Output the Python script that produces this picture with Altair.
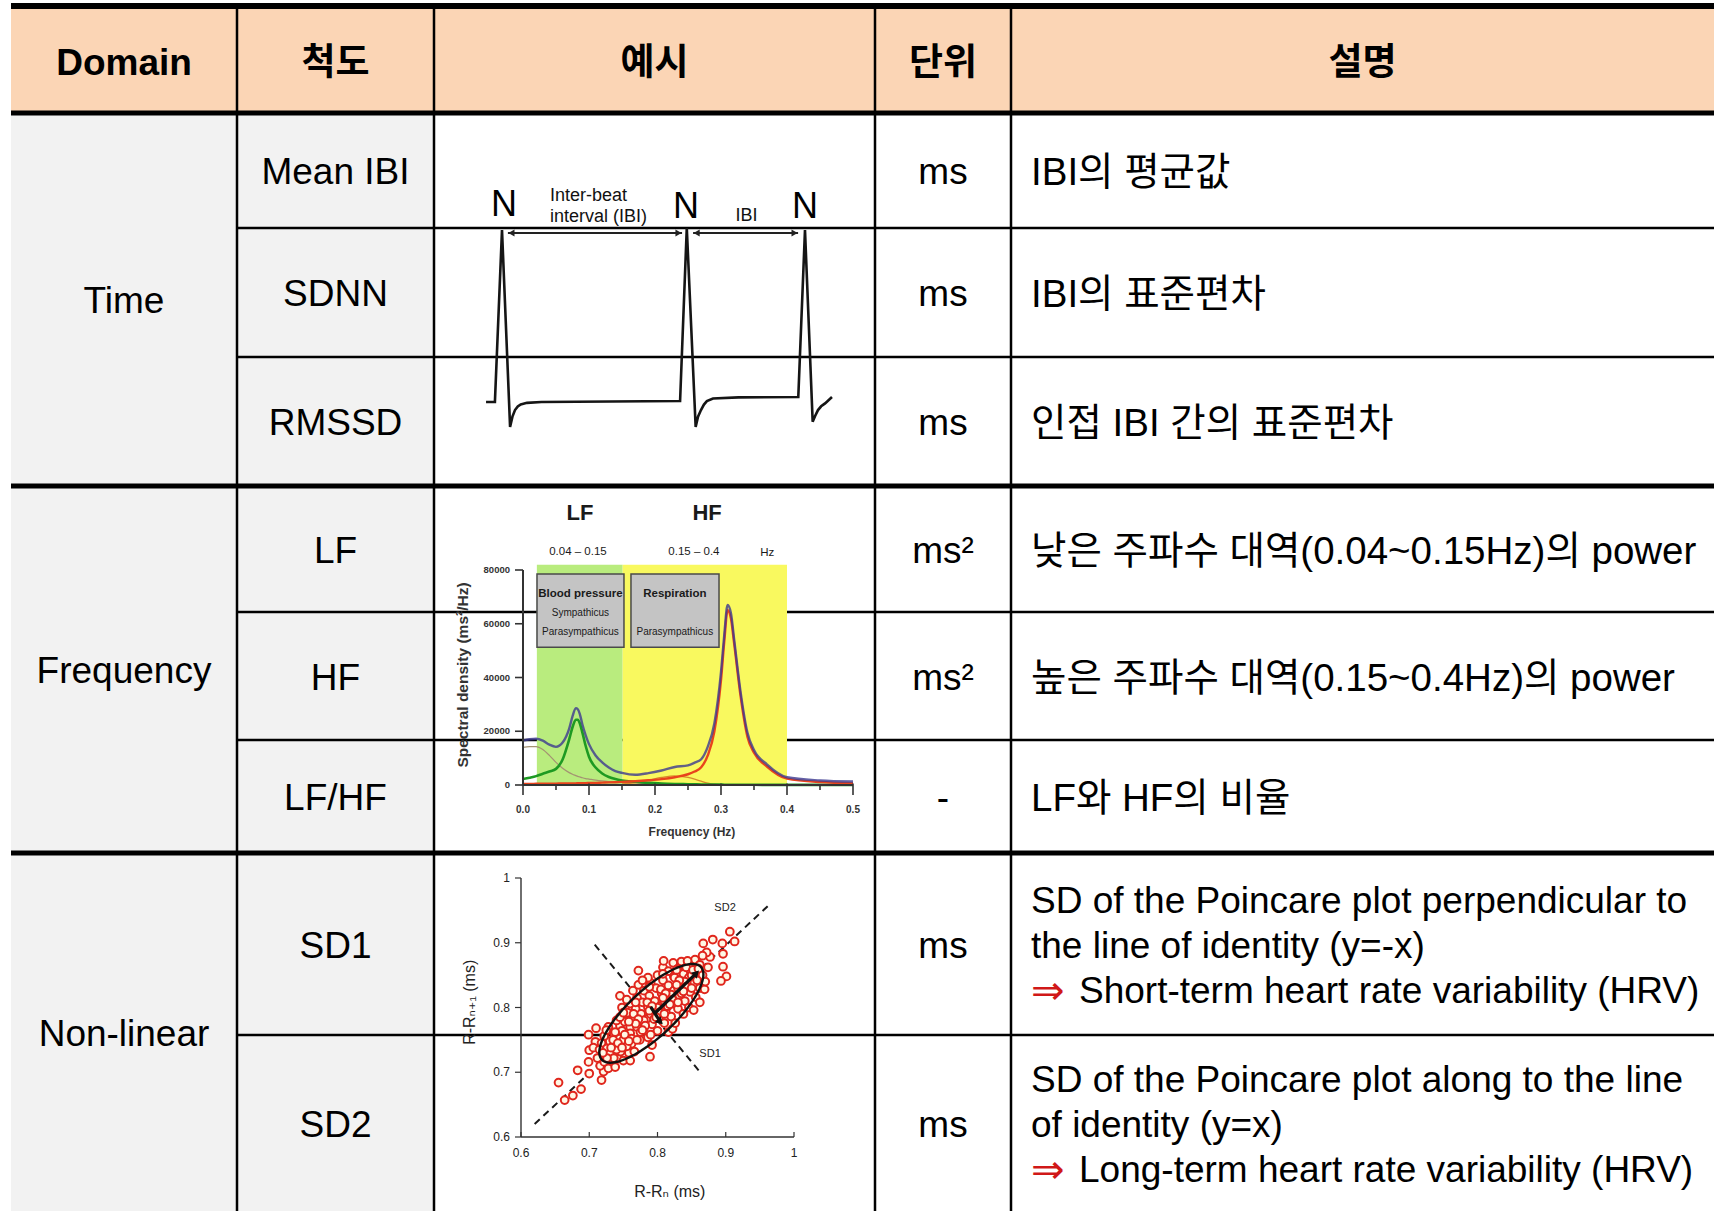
import numpy as np
import pandas as pd
import altair as alt

W, H = 1714, 1211

# ---------------------------------------------------------------- table text
HEADERS = ["Domain", "척도", "예시", "단위", "설명"]
DOMAINS = ["Time", "Frequency", "Non-linear"]
DOMAIN_ROWS = [(0, 3), (3, 6), (6, 8)]
METRICS = ["Mean IBI", "SDNN", "RMSSD", "LF", "HF", "LF/HF", "SD1", "SD2"]
UNITS = ["ms", "ms", "ms", "ms²", "ms²", "-", "ms", "ms"]
DESCRIPTIONS = [
    ["IBI의 평균값"],
    ["IBI의 표준편차"],
    ["인접 IBI 간의 표준편차"],
    ["낮은 주파수 대역(0.04~0.15Hz)의 power"],
    ["높은 주파수 대역(0.15~0.4Hz)의 power"],
    ["LF와 HF의 비율"],
    ["SD of the Poincare plot perpendicular to", "the line of identity (y=-x)"],
    ["SD of the Poincare plot along to the line", "of identity (y=x)"],
]
IMPLICATIONS = ["", "", "", "", "", "",
                "Short-term heart rate variability (HRV)",
                "Long-term heart rate variability (HRV)"]
ARROW = "⇒"

# ---------------------------------------------------------------- ECG strip
ECG_T = [-0.081, -0.036, 0.000, 0.041, 0.053, 0.066, 0.080, 0.095, 0.127, 0.200,
         0.904, 0.938, 0.983, 0.995, 1.010, 1.025, 1.040, 1.071, 1.200, 1.504,
         1.538, 1.577, 1.590, 1.604, 1.620, 1.640, 1.675]
ECG_V = [0.000, 0.000, 1.000, -0.145, -0.085, -0.047, -0.026, -0.014, -0.005, 0.000,
         0.006, 1.012, -0.145, -0.085, -0.047, -0.015, 0.005, 0.020, 0.027, 0.029,
         1.000, -0.114, -0.080, -0.047, -0.025, -0.008, 0.029]
R_PEAKS = [(0.010, 1.081), (0.934, 1.070), (1.538, 1.070)]
IBI_SPANS = [(0.030, 0.914), (0.970, 1.503)]
IBI_LEVEL = 0.983

# ---------------------------------------------------------------- HRV spectrum
FREQ = [0.00, 0.01, 0.02, 0.03, 0.04, 0.05, 0.06, 0.07, 0.075, 0.08, 0.083, 0.086,
        0.09, 0.095, 0.10, 0.11, 0.12, 0.13, 0.14, 0.15, 0.17, 0.19, 0.21, 0.23,
        0.25, 0.26, 0.27, 0.28, 0.29, 0.30, 0.305, 0.31, 0.315, 0.32, 0.33, 0.34,
        0.35, 0.37, 0.40, 0.45, 0.50]
PSD_TOTAL = [16500, 17000, 17200, 16500, 15000, 14200, 15800, 21000, 25500, 28600,
             28200, 26500, 22500, 18500, 15200, 11000, 8400, 6500, 5200, 4500,
             3800, 4400, 5400, 6700, 7300, 8300, 9600, 14300, 23000, 42000,
             56000, 67000, 64000, 54000, 34000, 19500, 13000, 7600, 2900, 1700, 1300]
PSD_LF = [2200, 2700, 3300, 4200, 5000, 6000, 9500, 17000, 21500, 24300,
          24300, 23000, 19500, 14500, 10500, 6500, 4300, 3000, 2200, 1700,
          1200, 800, 550, 400, 300, 250, 200, 180, 150, 130,
          120, 110, 100, 100, 90, 80, 70, 60, 50, 40, 30]
PSD_HF = [400, 420, 450, 480, 500, 520, 550, 580, 600, 620,
          640, 660, 680, 700, 730, 800, 880, 960, 1050, 1150,
          1400, 1750, 2200, 2900, 4000, 5000, 6600, 11000, 20000, 39000,
          53500, 65000, 62000, 52500, 32500, 18000, 12000, 6800, 2400, 1100, 700]
PSD_VLF = [14000, 14300, 14300, 13200, 11000, 8400, 6200, 4600, 4000, 3500,
           3200, 3000, 2700, 2400, 2200, 1800, 1500, 1300, 1150, 1000,
           750, 500, 300, 150, 80, 50, 30, 20, 10, 0,
           0, 0, 0, 0, 0, 0, 0, 0, 0, 0, 0]
MID_FREQ = [0.15, 0.17, 0.19, 0.21, 0.23, 0.25, 0.26, 0.27, 0.28, 0.29, 0.30]
MID_PSD = [400, 900, 1800, 2800, 3400, 2800, 2200, 1400, 700, 300, 0]
LF_BAND = (0.021, 0.151)
HF_BAND = (0.151, 0.400)
BAND_TOP = 82000
SPEC_XTICKS = [0.0, 0.1, 0.2, 0.3, 0.4, 0.5]
SPEC_XMINOR = [0.05, 0.15, 0.25, 0.35, 0.45]
SPEC_YTICKS = [0, 20000, 40000, 60000, 80000]

# ---------------------------------------------------------------- Poincare plot
RR = [
    (0.655, 0.684), (0.664, 0.657), (0.676, 0.664), (0.688, 0.674), (0.683, 0.703),
    (0.700, 0.698), (0.718, 0.688), (0.721, 0.701), (0.699, 0.716), (0.700, 0.734),
    (0.699, 0.758), (0.710, 0.768), (0.709, 0.747), (0.712, 0.722), (0.716, 0.710),
    (0.722, 0.716), (0.728, 0.706), (0.706, 0.738), (0.724, 0.728), (0.732, 0.718),
    (0.718, 0.745), (0.726, 0.737), (0.734, 0.729), (0.742, 0.721), (0.738, 0.708),
    (0.730, 0.748), (0.722, 0.756), (0.738, 0.740), (0.746, 0.732), (0.750, 0.718),
    (0.744, 0.752), (0.736, 0.760), (0.752, 0.744), (0.758, 0.730), (0.728, 0.770),
    (0.745, 0.772), (0.740, 0.780), (0.748, 0.764), (0.756, 0.756), (0.762, 0.744),
    (0.766, 0.732), (0.752, 0.778), (0.760, 0.770), (0.768, 0.760), (0.774, 0.750),
    (0.760, 0.718), (0.745, 0.818), (0.748, 0.800), (0.756, 0.792), (0.764, 0.784),
    (0.772, 0.776), (0.780, 0.768), (0.786, 0.754), (0.792, 0.742), (0.760, 0.806),
    (0.768, 0.798), (0.776, 0.790), (0.784, 0.782), (0.792, 0.774), (0.800, 0.764),
    (0.789, 0.724), (0.770, 0.815), (0.778, 0.808), (0.786, 0.800), (0.794, 0.792),
    (0.802, 0.784), (0.810, 0.776), (0.816, 0.762), (0.822, 0.767), (0.764, 0.826),
    (0.772, 0.835), (0.780, 0.826), (0.788, 0.818), (0.796, 0.810), (0.804, 0.802),
    (0.812, 0.794), (0.820, 0.786), (0.826, 0.776), (0.790, 0.838), (0.798, 0.830),
    (0.806, 0.822), (0.814, 0.814), (0.822, 0.806), (0.830, 0.798), (0.838, 0.790),
    (0.772, 0.857), (0.786, 0.846), (0.800, 0.850), (0.808, 0.842), (0.816, 0.834),
    (0.824, 0.826), (0.832, 0.818), (0.840, 0.810), (0.846, 0.800), (0.853, 0.796),
    (0.808, 0.862), (0.816, 0.856), (0.824, 0.848), (0.832, 0.840), (0.840, 0.832),
    (0.848, 0.824), (0.856, 0.816), (0.862, 0.808), (0.809, 0.872), (0.823, 0.869),
    (0.835, 0.871), (0.830, 0.860), (0.838, 0.852), (0.846, 0.846), (0.854, 0.838),
    (0.862, 0.830), (0.869, 0.828), (0.855, 0.874), (0.850, 0.862), (0.858, 0.856),
    (0.866, 0.850), (0.870, 0.840), (0.862, 0.866), (0.867, 0.899), (0.881, 0.905),
    (0.895, 0.899), (0.906, 0.917), (0.913, 0.902), (0.896, 0.883), (0.896, 0.863),
    (0.901, 0.848), (0.893, 0.841), (0.877, 0.878), (0.872, 0.885), (0.866, 0.880),
    (0.874, 0.862), (0.730, 0.728), (0.750, 0.750), (0.770, 0.770), (0.790, 0.790),
    (0.810, 0.810), (0.830, 0.830), (0.850, 0.850), (0.740, 0.735), (0.760, 0.760),
    (0.780, 0.780), (0.800, 0.800), (0.820, 0.820), (0.840, 0.840), (0.735, 0.750),
    (0.755, 0.740), (0.775, 0.762), (0.795, 0.782), (0.815, 0.802), (0.835, 0.822),
    (0.765, 0.790), (0.785, 0.808), (0.805, 0.828), (0.825, 0.846), (0.745, 0.785),
    (0.715, 0.735), (0.725, 0.765), (0.755, 0.812), (0.778, 0.842), (0.842, 0.862),
    (0.858, 0.842), (0.742, 0.745), (0.752, 0.758), (0.762, 0.752), (0.772, 0.782),
    (0.782, 0.772), (0.792, 0.802), (0.802, 0.792), (0.812, 0.822), (0.822, 0.812),
    (0.832, 0.842), (0.842, 0.832), (0.852, 0.858), (0.748, 0.738), (0.758, 0.748),
    (0.768, 0.775), (0.778, 0.765), (0.788, 0.795), (0.798, 0.785), (0.808, 0.815),
    (0.818, 0.805), (0.828, 0.835), (0.838, 0.825), (0.732, 0.738), (0.736, 0.722),
    (0.726, 0.722), (0.738, 0.762), (0.758, 0.778), (0.768, 0.808), (0.788, 0.832),
    (0.808, 0.852), (0.828, 0.858), (0.844, 0.872), (0.860, 0.860), (0.750, 0.792),
    (0.770, 0.750), (0.790, 0.758), (0.810, 0.790), (0.830, 0.808), (0.850, 0.830),
    (0.720, 0.730),
]
RR_CENTRE = (0.791, 0.791)
SD2_HALF = 0.102   # semi-axis along the line of identity
SD1_HALF = 0.035   # semi-axis perpendicular to it
IDENTITY_LINE = [(0.620, 0.620), (0.965, 0.960)]
PERP_LINE = [(0.708, 0.897), (0.861, 0.702)]
SD2_ARROW = [(0.795, 0.790), (0.857, 0.853)]
SD1_ARROW = [(0.790, 0.801), (0.804, 0.778)]
RR_TICKS = [0.6, 0.7, 0.8, 0.9, 1.0]
RR_TICK_LABELS = ["0.6", "0.7", "0.8", "0.9", "1"]

# ---------------------------------------------------------------- layout / style
COL_EDGES = [11, 237, 434, 875, 1011, 1714]
ROW_EDGES = [113, 228, 357, 486, 612, 740, 853, 1035, 1211]
TOP_RULE, HEADER_TOP, HEADER_BOTTOM = 6, 9, 113
BLOCK_RULES = [113, 486, 853]
DESC_X, NOTE_X, LINE_GAP = 1031, 1079, 45
TEXT_DROP = 2.5          # optical centring of text within cells
PEACH, GREY = "#FBD5B5", "#F2F2F2"
SANS = "Liberation Sans, Arial, Noto Sans CJK KR, sans-serif"
NARROW = "Liberation Sans Narrow, Arial Narrow, Liberation Sans, sans-serif"
BODY_SIZE = 37
HANGUL_SIZE = 38.5


def lin(domain, rng):
    return alt.Scale(domain=domain, range=rng, nice=False, zero=False)


def rules(df, sx, sy, **kw):
    enc = dict(x=alt.X("x:Q", scale=sx, axis=None), x2="x2:Q",
               y=alt.Y("y:Q", scale=sy, axis=None), y2="y2:Q")
    if "w" in df.columns:
        enc["strokeWidth"] = alt.StrokeWidth("w:Q", scale=None, legend=None)
    return alt.Chart(df).mark_rule(**kw).encode(**enc)


def rects(df, sx, sy, **kw):
    enc = dict(x=alt.X("x:Q", scale=sx, axis=None), x2="x2:Q",
               y=alt.Y("y:Q", scale=sy, axis=None), y2="y2:Q")
    if "fill" in df.columns:
        enc["color"] = alt.Color("fill:N", scale=None, legend=None)
    return alt.Chart(df).mark_rect(**kw).encode(**enc)


def texts(df, sx, sy, **kw):
    enc = dict(x=alt.X("x:Q", scale=sx, axis=None),
               y=alt.Y("y:Q", scale=sy, axis=None), text="label:N")
    return alt.Chart(df).mark_text(**kw).encode(**enc)


def path(df, sx, sy, **kw):
    return alt.Chart(df).mark_line(**kw).encode(
        x=alt.X("x:Q", scale=sx, axis=None),
        y=alt.Y("y:Q", scale=sy, axis=None),
        order="i:Q")


def points(df, sx, sy, **kw):
    enc = dict(x=alt.X("x:Q", scale=sx, axis=None),
               y=alt.Y("y:Q", scale=sy, axis=None))
    if "angle" in df.columns:
        enc["angle"] = alt.Angle("angle:Q", scale=None)
    return alt.Chart(df).mark_point(**kw).encode(**enc)


def has_hangul(s):
    return any("\uac00" <= ch <= "\ud7a3" for ch in s)


# ================================================================ table
TX, TY = lin([0, W], [0, W]), lin([0, H], [0, H])
col_mid = [(a + b) / 2 for a, b in zip(COL_EDGES[:-1], COL_EDGES[1:])]
row_mid = [(a + b) / 2 + TEXT_DROP for a, b in zip(ROW_EDGES[:-1], ROW_EDGES[1:])]
left, right = COL_EDGES[0], COL_EDGES[-1]

fills = pd.DataFrame([
    dict(x=left, x2=right, y=HEADER_TOP, y2=HEADER_BOTTOM, fill=PEACH),
    dict(x=left, x2=COL_EDGES[2], y=ROW_EDGES[0], y2=ROW_EDGES[-1], fill=GREY),
])

grid = [dict(x=left, x2=right, y=TOP_RULE, y2=TOP_RULE, w=6)]
grid += [dict(x=left, x2=right, y=y, y2=y, w=5) for y in BLOCK_RULES]
grid += [dict(x=COL_EDGES[1], x2=right, y=y, y2=y, w=2.5)
         for y in ROW_EDGES[1:-1] if y not in BLOCK_RULES]
grid += [dict(x=x, x2=x, y=TOP_RULE, y2=H, w=2.5) for x in COL_EDGES[1:-1]]
grid = pd.DataFrame(grid)

header_df = pd.DataFrame(dict(x=col_mid,
                              y=[(HEADER_TOP + HEADER_BOTTOM) / 2 + TEXT_DROP] * 5,
                              label=HEADERS))
domain_df = pd.DataFrame([dict(x=col_mid[0],
                               y=(ROW_EDGES[a] + ROW_EDGES[b]) / 2 + TEXT_DROP, label=d)
                          for d, (a, b) in zip(DOMAINS, DOMAIN_ROWS)])
metric_df = pd.DataFrame(dict(x=col_mid[1], y=row_mid, label=METRICS))
unit_df = pd.DataFrame(dict(x=col_mid[3], y=row_mid, label=UNITS))

latin_rows, hangul_rows, note_rows, arrow_rows = [], [], [], []
for r, lines in enumerate(DESCRIPTIONS):
    n = len(lines) + (1 if IMPLICATIONS[r] else 0)
    first = row_mid[r] - (n - 1) * LINE_GAP / 2
    for k, line in enumerate(lines):
        row = dict(x=DESC_X, y=first + k * LINE_GAP, label=line)
        (hangul_rows if has_hangul(line) else latin_rows).append(row)
    if IMPLICATIONS[r]:
        yy = first + len(lines) * LINE_GAP
        arrow_rows.append(dict(x=DESC_X, y=yy, label=ARROW))
        note_rows.append(dict(x=NOTE_X, y=yy, label=IMPLICATIONS[r]))

table = alt.layer(
    rects(fills, TX, TY),
    rules(grid, TX, TY, color="#000000"),
    texts(header_df, TX, TY, font=SANS, fontSize=BODY_SIZE, fontWeight="bold",
          color="#000000"),
    texts(domain_df, TX, TY, font=SANS, fontSize=BODY_SIZE, color="#000000"),
    texts(metric_df, TX, TY, font=SANS, fontSize=BODY_SIZE, color="#000000"),
    texts(unit_df, TX, TY, font=SANS, fontSize=BODY_SIZE, color="#000000"),
    texts(pd.DataFrame(latin_rows + note_rows), TX, TY, font=SANS, fontSize=BODY_SIZE,
          align="left", color="#000000"),
    texts(pd.DataFrame(hangul_rows), TX, TY, font=SANS, fontSize=HANGUL_SIZE,
          align="left", color="#000000"),
    texts(pd.DataFrame(arrow_rows), TX, TY, font="DejaVu Sans, sans-serif",
          fontSize=40, align="left", color="#D01818"),
)

# ================================================================ ECG strip
EX, EY = lin([-0.1, 1.7], [482.3, 836.9]), lin([-0.5, 1.5], [488, 144])
ecg_df = pd.DataFrame(dict(x=ECG_T, y=ECG_V, i=range(len(ECG_T))))
span_df = pd.DataFrame([dict(x=a, x2=b, y=IBI_LEVEL, y2=IBI_LEVEL) for a, b in IBI_SPANS])
head_l = pd.DataFrame([dict(x=a + 0.018, y=IBI_LEVEL) for a, _ in IBI_SPANS])
head_r = pd.DataFrame([dict(x=b - 0.018, y=IBI_LEVEL) for _, b in IBI_SPANS])
n_df = pd.DataFrame([dict(x=t, y=v, label="N") for t, v in R_PEAKS])
ibi_text = pd.DataFrame([
    dict(x=0.244, y=1.169, label="Inter-beat"),
    dict(x=0.244, y=1.047, label="interval (IBI)"),
])
ibi_short = pd.DataFrame([dict(x=1.241, y=1.052, label="IBI")])

ecg = alt.layer(
    path(ecg_df, EX, EY, color="#151515", strokeWidth=2.6, interpolate="linear"),
    rules(span_df, EX, EY, color="#222222", strokeWidth=2),
    points(head_l, EX, EY, shape="triangle-left", filled=True, size=50, color="#222222",
           opacity=1),
    points(head_r, EX, EY, shape="triangle-right", filled=True, size=50, color="#222222",
           opacity=1),
    texts(n_df, EX, EY, font=SANS, fontSize=36, baseline="alphabetic", color="#000000"),
    texts(ibi_text, EX, EY, font=SANS, fontSize=18, align="left",
          baseline="alphabetic", color="#111111"),
    texts(ibi_short, EX, EY, font=SANS, fontSize=18, baseline="alphabetic",
          color="#111111"),
)

# ================================================================ spectrum
SX, SY = lin([0, 0.5], [523, 853]), lin([0, 80000], [785, 570])
px_x, px_y = 0.5 / 330, 80000 / 215   # data units per pixel

bands = pd.DataFrame([
    dict(x=LF_BAND[0], x2=LF_BAND[1], y=0, y2=BAND_TOP, fill="#B9EC7E"),
    dict(x=HF_BAND[0], x2=HF_BAND[1], y=0, y2=BAND_TOP, fill="#F9F95F"),
])
boxes = pd.DataFrame([
    dict(x=0.0212, x2=0.153, y=51300, y2=78500),
    dict(x=0.1636, x2=0.297, y=51300, y2=78500),
])
box_bold = pd.DataFrame([
    dict(x=0.0870, y=71060, label="Blood pressure"),
    dict(x=0.2300, y=71060, label="Respiration"),
])
box_plain = pd.DataFrame([
    dict(x=0.0870, y=64000, label="Sympathicus"),
    dict(x=0.0870, y=56940, label="Parasympathicus"),
    dict(x=0.2300, y=56940, label="Parasympathicus"),
])
band_titles = pd.DataFrame([
    dict(x=0.0864, y=101200, label="LF"),
    dict(x=0.2790, y=101200, label="HF"),
])
band_ranges = pd.DataFrame([
    dict(x=0.0833, y=86700, label="0.04 – 0.15"),
    dict(x=0.2590, y=86700, label="0.15 – 0.4"),
    dict(x=0.3700, y=86500, label="Hz"),
])


def curve(freq, vals):
    return pd.DataFrame(dict(x=freq, y=vals, i=range(len(freq))))


spec_axes = pd.DataFrame([
    dict(x=0, x2=0.5, y=0, y2=0),
    dict(x=0, x2=0, y=0, y2=80000),
])
spec_ticks = pd.DataFrame(
    [dict(x=v, x2=v, y=1.5 * px_y, y2=-10 * px_y) for v in SPEC_XTICKS]
    + [dict(x=v, x2=v, y=0, y2=-5 * px_y) for v in SPEC_XMINOR]
    + [dict(x=0, x2=-8 * px_x, y=v, y2=v) for v in SPEC_YTICKS]
)
spec_xlab = pd.DataFrame(dict(x=SPEC_XTICKS, y=-25 * px_y,
                              label=[f"{v:.1f}" for v in SPEC_XTICKS]))
spec_ylab = pd.DataFrame(dict(x=-13 * px_x, y=SPEC_YTICKS,
                              label=[str(v) for v in SPEC_YTICKS]))
spec_xtitle = pd.DataFrame([dict(x=0.256, y=-47 * px_y, label="Frequency (Hz)")])
spec_ytitle = pd.DataFrame([dict(x=-60 * px_x, y=110 * px_y,
                                 label="Spectral density (ms²/Hz)")])

spectrum = alt.layer(
    rects(bands, SX, SY),
    rects(boxes, SX, SY, fill="#C4C4C4", stroke="#4A4A4A", strokeWidth=1.5),
    texts(box_bold, SX, SY, font=NARROW, fontSize=11.5, fontWeight="bold", color="#1A1A1A"),
    texts(box_plain, SX, SY, font=NARROW, fontSize=10, color="#1A1A1A"),
    texts(band_titles, SX, SY, font=NARROW, fontSize=22, fontWeight="bold", color="#1A1A1A"),
    texts(band_ranges, SX, SY, font=NARROW, fontSize=11.5, color="#1A1A1A"),
    path(curve(FREQ, PSD_VLF), SX, SY, color="#A39272", strokeWidth=1.2, interpolate="monotone"),
    path(curve(MID_FREQ, MID_PSD), SX, SY, color="#D68B2C", strokeWidth=1.3, interpolate="monotone"),
    path(curve(FREQ, PSD_LF), SX, SY, color="#1E9A22", strokeWidth=2.6, interpolate="monotone"),
    path(curve(FREQ, PSD_HF), SX, SY, color="#E8441C", strokeWidth=2.4, interpolate="monotone"),
    path(curve(FREQ, PSD_TOTAL), SX, SY, color="#3C3A90", strokeWidth=2.4, opacity=0.8,
         interpolate="monotone"),
    rules(spec_axes, SX, SY, color="#333333", strokeWidth=2),
    rules(spec_ticks, SX, SY, color="#333333", strokeWidth=1.6),
    texts(spec_xlab, SX, SY, font=NARROW, fontSize=10, fontWeight="bold", color="#333333"),
    texts(spec_ylab, SX, SY, font=NARROW, fontSize=9.5, fontWeight="bold", align="right",
          color="#333333"),
    texts(spec_xtitle, SX, SY, font=NARROW, fontSize=12, fontWeight="bold", color="#333333"),
    texts(spec_ytitle, SX, SY, font=SANS, fontSize=15.5, fontWeight="bold", angle=270,
          color="#333333"),
)

# ================================================================ Poincare plot
PX, PY = lin([0.6, 1.0], [521, 794]), lin([0.6, 1.0], [1137, 878])
ux, uy = 0.4 / 273, 0.4 / 259   # data units per pixel

rr_df = pd.DataFrame(RR, columns=["x", "y"])
theta = np.linspace(0, 2 * np.pi, 97)
ell_df = pd.DataFrame(dict(
    x=RR_CENTRE[0] + (SD2_HALF * np.cos(theta) - SD1_HALF * np.sin(theta)) / np.sqrt(2),
    y=RR_CENTRE[1] + (SD2_HALF * np.cos(theta) + SD1_HALF * np.sin(theta)) / np.sqrt(2),
    i=range(len(theta)),
))
dash_df = pd.DataFrame([
    dict(x=IDENTITY_LINE[0][0], x2=IDENTITY_LINE[1][0], y=IDENTITY_LINE[0][1], y2=IDENTITY_LINE[1][1]),
    dict(x=PERP_LINE[0][0], x2=PERP_LINE[1][0], y=PERP_LINE[0][1], y2=PERP_LINE[1][1]),
])
arrow_df = pd.DataFrame([
    dict(x=SD2_ARROW[0][0], x2=SD2_ARROW[1][0], y=SD2_ARROW[0][1], y2=SD2_ARROW[1][1]),
    dict(x=SD1_ARROW[0][0], x2=SD1_ARROW[1][0], y=SD1_ARROW[0][1], y2=SD1_ARROW[1][1]),
])
tips_df = pd.DataFrame([
    dict(x=SD2_ARROW[1][0], y=SD2_ARROW[1][1], angle=45),
    dict(x=SD1_ARROW[1][0], y=SD1_ARROW[1][1], angle=135),
])
rr_axes = pd.DataFrame([
    dict(x=0.6, x2=1.0, y=0.6, y2=0.6),
    dict(x=0.6, x2=0.6, y=0.6, y2=1.0),
])
rr_ticks = pd.DataFrame(
    [dict(x=v, x2=v, y=0.6, y2=0.6 + 5 * uy) for v in RR_TICKS]
    + [dict(x=0.6, x2=0.6 - 6 * ux, y=v, y2=v) for v in RR_TICKS]
)
rr_xlab = pd.DataFrame(dict(x=RR_TICKS, y=0.6 - 16 * uy, label=RR_TICK_LABELS))
rr_ylab = pd.DataFrame(dict(x=0.6 - 11 * ux, y=RR_TICKS, label=RR_TICK_LABELS))
rr_xtitle = pd.DataFrame([dict(x=0.818, y=0.6 - 55 * uy, label="R-Rₙ (ms)")])
rr_ytitle = pd.DataFrame([dict(x=0.6 - 51 * ux, y=0.808, label="R-Rₙ₊₁ (ms)")])
sd_labels = pd.DataFrame([
    dict(x=0.899, y=0.954, label="SD2"),
    dict(x=0.877, y=0.728, label="SD1"),
])

poincare = alt.layer(
    rules(dash_df, PX, PY, color="#1A1A1A", strokeWidth=2, strokeDash=[7, 5]),
    points(rr_df, PX, PY, shape="circle", filled=True, size=60, fill="#FFF7E4",
           stroke="#E0261C", strokeWidth=2, opacity=1),
    path(ell_df, PX, PY, color="#111111", strokeWidth=2.4),
    rules(arrow_df, PX, PY, color="#111111", strokeWidth=3.2),
    points(tips_df, PX, PY, shape="triangle-up", filled=True, size=70, color="#111111",
           opacity=1),
    rules(rr_axes, PX, PY, color="#333333", strokeWidth=1.4),
    rules(rr_ticks, PX, PY, color="#333333", strokeWidth=1.2),
    texts(rr_xlab, PX, PY, font=SANS, fontSize=12, color="#222222"),
    texts(rr_ylab, PX, PY, font=SANS, fontSize=12, align="right", color="#222222"),
    texts(rr_xtitle, PX, PY, font="Liberation Sans, DejaVu Sans, sans-serif",
          fontSize=16, color="#222222"),
    texts(rr_ytitle, PX, PY, font="Liberation Sans, DejaVu Sans, sans-serif",
          fontSize=16, angle=270, color="#222222"),
    texts(sd_labels, PX, PY, font=SANS, fontSize=11, color="#222222"),
)

chart = (
    alt.layer(table, ecg, spectrum, poincare)
    .resolve_scale(x="independent", y="independent")
    .properties(width=W, height=H, padding=0, autosize=alt.AutoSizeParams(type="none"),
                background="#FFFFFF")
    .configure_view(stroke=None)
)

chart.save("out.html", embed_options={"renderer": "svg", "actions": False})
